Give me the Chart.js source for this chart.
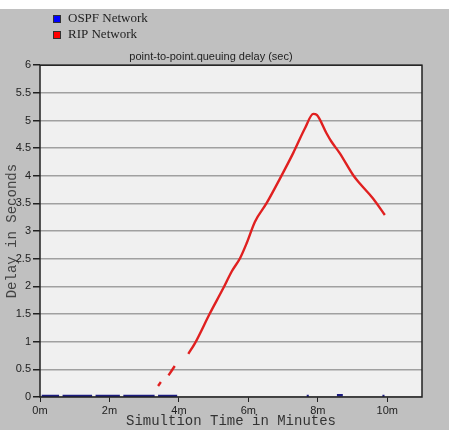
<!DOCTYPE html>
<html>
<head>
<meta charset="utf-8">
<script src="https://cdn.jsdelivr.net/npm/chart.js@4/dist/chart.umd.min.js"></script>
<style>
    body { margin: 0; background: #ffffff; }
    #panel { position: absolute; left: 0; top: 9px; width: 449px; height: 421px; background: #c0c0c0; }
</style>
</head>
<body>
<div id="panel"><canvas id="delayChart" width="449" height="421"></canvas></div>
<script>
// Values (time in minutes, delay in seconds)
const ripTime  = [3.40, 3.48, 3.55, 3.70, 3.88, 4.05, 4.27, 4.46, 4.89, 5.28, 5.52, 5.76, 5.95, 6.19, 6.52, 6.91, 7.29, 7.63, 7.87, 7.97, 8.25, 8.39, 8.63, 9.02, 9.21, 9.59, 9.93];
const ripDelay = [0.20, 0.27, null, 0.39, 0.56, null, 0.78, 0.97, 1.51, 1.97, 2.27, 2.51, 2.78, 3.17, 3.50, 3.95, 4.41, 4.86, 5.12, 5.10, 4.77, 4.62, 4.41, 4.01, 3.86, 3.59, 3.29];

const ospfTime  = [0.05, 0.55, 0.6, 0.65, 1.5, 1.55, 1.6, 2.3, 2.35, 2.4, 3.3, 3.35, 3.4, 3.95, 4.0, 7.68, 7.74, 7.8, 8.55, 8.72, 8.8, 9.86, 9.92];
const ospfDelay = [0.02, 0.02, null, 0.02, 0.02, null, 0.02, 0.02, null, 0.02, 0.02, null, 0.02, 0.02, null, 0.02, 0.02, null, 0.03, 0.03, null, 0.02, 0.02];

const xTicks = [0, 2, 4, 6, 8, 10];
const yTicks = [0, 0.5, 1, 1.5, 2, 2.5, 3, 3.5, 4, 4.5, 5, 5.5, 6];

function toPoints(xs, ys) {
    return xs.map((x, i) => ({ x: x, y: ys[i] }));
}

// plot background + frame
const framePlugin = {
    id: 'frame',
    beforeDraw(chart) {
        const a = chart.chartArea;
        const ctx = chart.ctx;
        ctx.save();
        ctx.fillStyle = '#f0f0f0';
        ctx.fillRect(a.left, a.top, a.right - a.left, a.bottom - a.top);
        ctx.restore();
    },
    afterDraw(chart) {
        const a = chart.chartArea;
        const ctx = chart.ctx;
        ctx.save();
        ctx.strokeStyle = '#202020';
        ctx.lineWidth = 1.5;
        ctx.strokeRect(a.left, a.top, a.right - a.left, a.bottom - a.top);
        ctx.restore();
    }
};

// stacked legend at top left
const stackLegend = {
    id: 'stackLegend',
    afterDraw(chart) {
        const ctx = chart.ctx;
        ctx.save();
        ctx.font = '13px "Liberation Serif", "Times New Roman", serif';
        ctx.textBaseline = 'middle';
        chart.data.datasets.forEach((ds, i) => {
            const y = 6 + i * 16;
            ctx.fillStyle = ds.legendColor;
            ctx.fillRect(53, y, 8, 8);
            ctx.strokeStyle = '#303030';
            ctx.lineWidth = 1;
            ctx.strokeRect(53.5, y + 0.5, 7, 7);
            ctx.fillStyle = '#222222';
            ctx.fillText(ds.label, 68, y + 4);
        });
        ctx.restore();
    }
};

const ctx = document.getElementById('delayChart');
new Chart(ctx.getContext('2d'), {
    type: 'line',
    data: {
        datasets: [{
            label: 'OSPF Network',
            data: toPoints(ospfTime, ospfDelay),
            borderColor: '#1c1c80',
            legendColor: '#0000ff',
            borderWidth: 2.5,
            pointRadius: 0,
            spanGaps: false,
            tension: 0
        }, {
            label: 'RIP Network',
            data: toPoints(ripTime, ripDelay),
            borderColor: '#e02020',
            legendColor: '#ff0000',
            borderWidth: 2.4,
            pointRadius: 0,
            spanGaps: false,
            cubicInterpolationMode: 'monotone'
        }]
    },
    options: {
        responsive: false,
        animation: false,
        layout: {
            padding: { top: 41, right: 27, left: 0, bottom: 0 }
        },
        plugins: {
            legend: {
                display: false
            },
            tooltip: {
                enabled: false
            },
            title: {
                display: true,
                text: 'point-to-point.queuing delay (sec)',
                color: '#222222',
                font: { family: '"Liberation Sans", Arial, sans-serif', size: 11, weight: 'normal' },
                padding: { top: 0, bottom: 2 }
            }
        },
        scales: {
            x: {
                type: 'linear',
                min: 0,
                max: 11,
                afterBuildTicks: axis => {
                    axis.ticks = xTicks.map(v => ({ value: v }));
                },
                afterFit: axis => {
                    axis.height = 33;
                },
                ticks: {
                    callback: v => v + 'm',
                    color: '#222222',
                    font: { family: '"Liberation Sans", Arial, sans-serif', size: 11 },
                    maxRotation: 0,
                    padding: 2
                },
                grid: {
                    drawOnChartArea: false,
                    tickLength: 5,
                    tickColor: '#202020'
                },
                border: {
                    display: false
                },
                title: {
                    display: true,
                    text: 'Simultion Time in Minutes',
                    color: '#333333',
                    font: { family: '"Liberation Mono", "Courier New", monospace', size: 14 },
                    padding: { top: 0, bottom: 0 }
                }
            },
            y: {
                min: 0,
                max: 6,
                afterBuildTicks: axis => {
                    axis.ticks = yTicks.map(v => ({ value: v }));
                },
                afterFit: axis => {
                    axis.width = 40;
                },
                ticks: {
                    callback: v => String(v),
                    color: '#222222',
                    font: { family: '"Liberation Sans", Arial, sans-serif', size: 11 },
                    padding: 2
                },
                grid: {
                    color: '#a0a0a0',
                    lineWidth: 1.5,
                    tickLength: 7,
                    tickColor: '#202020'
                },
                border: {
                    display: false
                },
                title: {
                    display: true,
                    text: 'Delay in Seconds',
                    color: '#444444',
                    font: { family: '"Liberation Mono", "Courier New", monospace', size: 14 },
                    padding: { top: 4, bottom: 0 }
                }
            }
        }
    },
    plugins: [framePlugin, stackLegend]
});
</script>
</body>
</html>
